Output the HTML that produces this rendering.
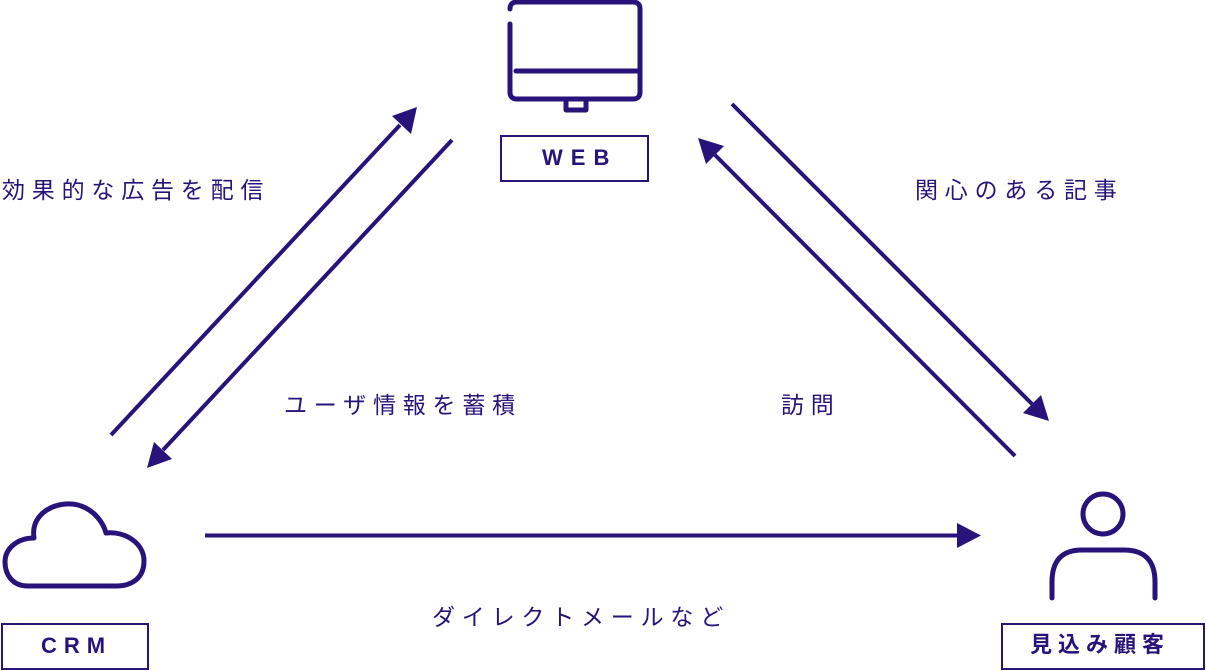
<!DOCTYPE html>
<html><head><meta charset="utf-8"><style>
html,body{margin:0;padding:0;background:#fff;}
body{width:1206px;height:671px;overflow:hidden;position:relative;}
.t{position:absolute;font-family:"Liberation Sans","Noto Sans CJK JP",sans-serif;color:#27137a;font-size:23px;letter-spacing:6.8px;white-space:nowrap;line-height:1;}
</style></head><body>
<svg width="1206" height="671" style="position:absolute;left:0;top:0">
<g fill="none" stroke="#27137a" stroke-width="5" stroke-linecap="round" stroke-linejoin="round">
<path d="M510,9 Q510,2 517,2 L633,2 Q640,2 640,9 L640,92 Q640,99 633,99 L517,99 Q510,99 510,92 L510,24"/>
<line x1="516" y1="71" x2="640" y2="71"/>
<path d="M566,102 L566,110 L586,110 L586,102"/>
<path d="M34,538 C30,512 58,500 78,505 C96,510 104,525 106,533 C125,531 144,543 144,561 C144,578 132,586 116,586 L28,586 C12,586 5,574 5,562 C5,548 18,538 34,538 Z"/>
<circle cx="1103" cy="514" r="20"/>
<path d="M1052,598 L1052,582 Q1052,550 1082,550 L1124,550 Q1155,550 1155,582 L1155,598"/>
</g>
<g fill="none" stroke="#27137a" stroke-width="2">
<rect x="501" y="136" width="147" height="45"/>
<rect x="2" y="624" width="146" height="45"/>
<rect x="1002" y="624" width="202" height="45"/>
</g>
<g stroke="#27137a" stroke-width="4" fill="none">
<line x1="111" y1="435" x2="400" y2="125"/>
<line x1="452" y1="140" x2="163" y2="450"/>
<line x1="732" y1="104" x2="1032" y2="404"/>
<line x1="1015" y1="456" x2="715" y2="155"/>
<line x1="205" y1="535.5" x2="960" y2="535.5"/>
</g>
<g fill="#27137a">
<polygon points="417,107 392,116 411,134"/>
<polygon points="147,468 154,442 172,459"/>
<polygon points="1049,421 1023,413 1041,395"/>
<polygon points="698,138 724,146 706,164"/>
<polygon points="981,535.5 957,523 957,548"/>
</g>
</svg>
<div class="t" style="left:542px;top:147px;font-size:22px;font-weight:bold;letter-spacing:8px;">WEB</div>
<div class="t" style="left:41px;top:635px;font-size:22px;font-weight:bold;letter-spacing:7px;">CRM</div>
<div class="t" style="left:1030px;top:634px;font-size:22px;font-weight:bold;letter-spacing:6px;">見込み顧客</div>
<div class="t" style="left:2px;top:179px;">効果的な広告を配信</div>
<div class="t" style="left:915px;top:179px;">関心のある記事</div>
<div class="t" style="left:284px;top:394px;">ユーザ情報を蓄積</div>
<div class="t" style="left:781px;top:394px;">訪問</div>
<div class="t" style="left:432px;top:606px;">ダイレクトメールなど</div>
</body></html>
